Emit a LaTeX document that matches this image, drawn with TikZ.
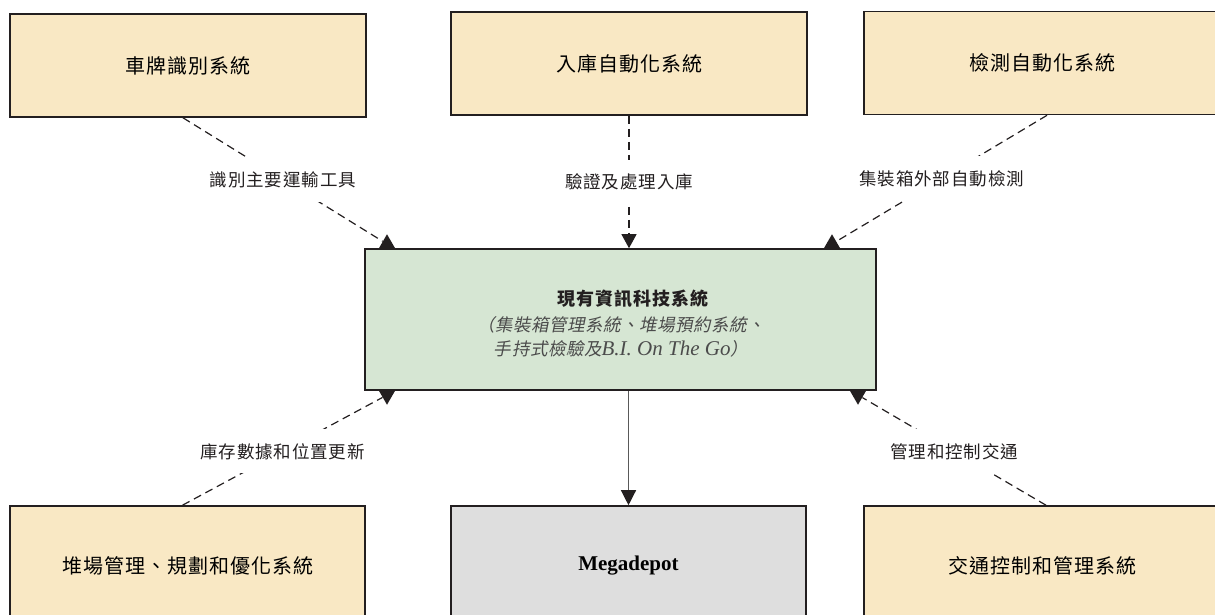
\documentclass[tikz,border=0pt]{standalone}
\usepackage{fontspec}
\usepackage{xcolor}
\usetikzlibrary{shapes.geometric, arrows.meta}
\newfontfamily\cjk[LetterSpace=5]{Noto Sans CJK TC}
\newfontfamily\cjkslant[FakeSlant=0.2, LetterSpace=3]{Noto Sans CJK TC}
\newfontfamily\tms{Liberation Serif}
\definecolor{sysbeige}{RGB}{249,232,196}
\definecolor{itsgreen}{RGB}{214,230,211}
\definecolor{depotgray}{RGB}{222,222,222}
\definecolor{frame}{RGB}{35,31,32}
\definecolor{subgray}{RGB}{75,75,75}
\newcommand{\latinit}[1]{{\tms\itshape\fontsize{21}{24}\selectfont #1}}

\begin{document}
\begin{tikzpicture}[x=1pt, y=-1pt]
		\tikzset{
		    sysbox/.style= {rectangle, draw=frame, line width=1.6pt, fill=sysbeige, minimum width=356pt, minimum height=103pt, font=\cjk\fontsize{20}{24}\selectfont},
		    itsbox/.style= {rectangle, draw=frame, line width=1.6pt, fill=itsgreen, minimum width=511pt, minimum height=141pt},
		    depotbox/.style= {rectangle, draw=frame, line width=1.6pt, fill=depotgray, minimum width=355pt, minimum height=120pt, font=\tms\bfseries\fontsize{21}{24}\selectfont},
		    lbl/.style= {fill=white, inner xsep=2pt, inner ysep=14pt, text=frame, font=\cjk\fontsize{17.5}{20}\selectfont},
		    dline/.style= {draw=frame, line width=1.2pt, dash pattern=on 8pt off 5pt},
		    mkup/.style= {regular polygon, regular polygon sides=3, fill=frame, minimum size=19.5pt, inner sep=0pt},
		    mkdown/.style= {mkup, shape border rotate=180},
		}
		\useasboundingbox (0,0) rectangle (1215,615);
		\clip (0,0) rectangle (1215,615);
		
		\node[sysbox] (lpr) at (188, 65.5) {車牌識別系統};
		\node[sysbox] (gatein) at (629, 63.5) {入庫自動化系統};
		\node[sysbox] (inspect) at (1042, 63) {檢測自動化系統};
		
		\node[itsbox] (its) at (620.5, 319.5) {};
		\node[font=\cjk\bfseries\fontsize{18}{22}\selectfont, text=frame] (itstitle) at (633, 299) {現有資訊科技系統};
		\node[align=center, text=subgray, font=\cjkslant\fontsize{17.5}{24}\selectfont] (itssub) at (621, 337) {（集裝箱管理系統、堆場預約系統、\\手持式檢驗及\latinit{B.I. On The Go}）};
		
		\node[sysbox, minimum width=355pt, minimum height=120pt] (yard) at (187.5, 566) {堆場管理、規劃和優化系統};
		\node[depotbox] (depot) at (628.5, 566) {Megadepot};
		\node[sysbox, minimum height=120pt] (traffic) at (1042, 566) {交通控制和管理系統};
		
		\node[mkup] (m1) at (387, 244) {};
		\node[mkup] (m3) at (832, 244) {};
		\node[mkdown] (m4) at (387, 395) {};
		\node[mkdown] (m5) at (858, 395) {};
		
		\draw
		([xshift=-5pt]lpr.south) edge[dline] node[lbl] {識別主要運輸工具} (m1)
		(gatein.south) edge[dline, -{Triangle[width=15pt, length=14pt]}] node[lbl] {驗證及處理入庫} (gatein.south |- its.north)
		([xshift=5pt]inspect.south) edge[dline] node[lbl] {集裝箱外部自動檢測} (m3)
		([xshift=-5pt]yard.north) edge[dline] node[lbl] {庫存數據和位置更新} (m4)
		([xshift=4pt]traffic.north) edge[dline] node[lbl] {管理和控制交通} (m5);
		
		\draw[draw=black!65, line width=1.3pt, -{Triangle[width=15pt, length=15pt, color=frame]}] (depot.north |- its.south) -- (depot.north);
	\end{tikzpicture}
\end{document}
